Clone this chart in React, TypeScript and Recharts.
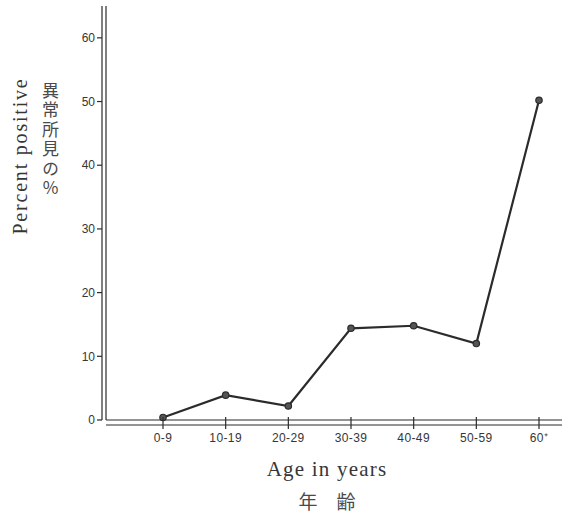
import { CartesianGrid, Line, LineChart, XAxis, YAxis } from "recharts";

const ageGroups = ["0-9", "10-19", "20-29", "30-39", "40-49", "50-59", "60⁺"];
const percentPositive = [0.4, 3.9, 2.2, 14.4, 14.8, 12.0, 50.2];
const yTicks = [0, 10, 20, 30, 40, 50, 60];

const INK = "#2b2b2b";
const TEXT = "#363636";
const SERIF = '"Liberation Serif", "DejaVu Serif", serif';
const SANS = '"Liberation Sans", Arial, sans-serif';

const chartData = ageGroups.map((age, i) => ({ age, pct: percentPositive[i] }));

// tick crosses both x-axis rules, label sits underneath
function AgeTick({ x, y, payload }: any) {
  return (
    <g>
      <line x1={x} x2={x} y1={y - 3} y2={y + 9} stroke={INK} strokeWidth={1.2} />
      <text
        x={x}
        y={y + 22}
        textAnchor="middle"
        fill={TEXT}
        fontFamily={SANS}
        fontSize={12}
        letterSpacing={0.4}
      >
        {payload.value}
      </text>
    </g>
  );
}

export default function App() {
  return (
    <div
      style={{
        position: "absolute",
        left: 0,
        top: 0,
        width: 562,
        height: 513,
        background: "#fff",
      }}
    >
      <LineChart
        width={562}
        height={513}
        data={chartData}
        margin={{ top: 6, right: 0, bottom: 84, left: 0 }}
      >
        <CartesianGrid stroke="none" />
        <XAxis
          dataKey="age"
          height={5}
          padding={{ left: 57, right: 23 }}
          tickSize={0}
          tickMargin={0}
          tickLine={false}
          interval={0}
          tick={<AgeTick />}
          axisLine={{ stroke: INK, strokeWidth: 1.2 }}
        />
        <XAxis
          xAxisId="under"
          dataKey="age"
          height={4}
          tick={false}
          tickLine={false}
          axisLine={{ stroke: INK, strokeWidth: 1.2 }}
        />
        {/* default axis sits next to the plot: plain rule only */}
        <YAxis
          width={4}
          domain={[0, 65]}
          tick={false}
          tickLine={false}
          axisLine={{ stroke: INK, strokeWidth: 1.2 }}
        />
        <YAxis
          yAxisId="ticks"
          width={102}
          domain={[0, 65]}
          ticks={yTicks}
          tickSize={5}
          tickMargin={2}
          tickLine={{ stroke: INK, strokeWidth: 1.2 }}
          axisLine={{ stroke: INK, strokeWidth: 1.2 }}
          tick={{ fill: TEXT, fontFamily: SANS, fontSize: 12 }}
        />
        <Line
          yAxisId="ticks"
          dataKey="pct"
          type="linear"
          stroke={INK}
          strokeWidth={2.2}
          dot={{ r: 3.2, fill: "#555", stroke: INK, strokeWidth: 1.2 }}
          activeDot={false}
          isAnimationActive={false}
        />
      </LineChart>

      <div
        style={{
          position: "absolute",
          left: 20,
          top: 156,
          transform: "translate(-50%, -50%) rotate(-90deg)",
          whiteSpace: "nowrap",
          fontFamily: SERIF,
          fontSize: 20,
          letterSpacing: 1.8,
          color: TEXT,
        }}
      >
        Percent positive
      </div>
      <div
        style={{
          position: "absolute",
          left: 38,
          top: 82,
          writingMode: "vertical-rl",
          textOrientation: "upright",
          fontFamily: '"Noto Sans CJK JP", sans-serif',
          fontSize: 17,
          letterSpacing: 2.5,
          color: "#4a4a4a",
        }}
      >
        異常所見の%
      </div>
      <div
        style={{
          position: "absolute",
          left: 327,
          top: 457,
          transform: "translateX(-50%)",
          whiteSpace: "nowrap",
          fontFamily: SERIF,
          fontSize: 21,
          letterSpacing: 1.2,
          color: TEXT,
        }}
      >
        Age in years
      </div>
      <div
        style={{
          position: "absolute",
          left: 327,
          top: 487,
          transform: "translateX(-50%)",
          whiteSpace: "nowrap",
          fontFamily: '"Noto Sans CJK JP", sans-serif',
          fontSize: 19,
          color: "#4a4a4a",
        }}
      >
        年　齢
      </div>
    </div>
  );
}
